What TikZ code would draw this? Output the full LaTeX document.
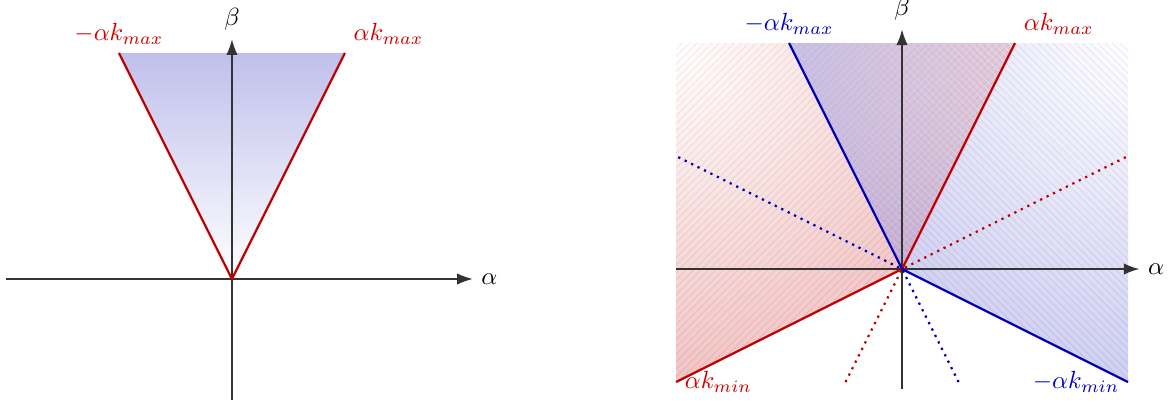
\documentclass[tikz,border=0pt]{standalone}
\usepackage{amsmath}
\usetikzlibrary{calc, positioning}
\usetikzlibrary{arrows.meta}
\usetikzlibrary{patterns}

\begin{document}
\begin{tikzpicture}[x=1.6cm,y=1.6cm]
\def\kmax{2}
\def\kmin{0.5}
\colorlet{boundred}{red!75!black}
\colorlet{boundblue}{blue!70!black}
\colorlet{labelred}{red!80!black}
\colorlet{labelblue}{blue!75!black}
\tikzset{
  axisline/.style={black!80,line width=0.5pt,-{Latex[length=2.2mm,width=1.6mm]}},
  boundline/.style={line width=0.9pt},
  guideline/.style={line width=0.9pt,dotted},
}
\useasboundingbox (-2.053,-1.115) rectangle (8.319,2.469);

% left picture: the admissible cone
\coordinate (O) at (0,0);
\coordinate (Ltop) at (-1,\kmax);
\coordinate (Rtop) at (1,\kmax);
\shade[top color=boundblue!25,bottom color=white] (O) -- (Ltop) -- (Rtop) -- cycle;

\coordinate (xa) at (-2,0);
\coordinate (xb) at (2.13,0);
\coordinate (ya) at (0,-1.07);
\coordinate (yb) at (0,2.12);
\draw[axisline] (xa) -- (xb);
\draw[axisline] (ya) -- (yb);
\node[right] (alphaL) at (xb) {$\alpha$};
\node[above] (betaL) at (yb) {$\beta$};

\draw[boundline,boundred] (Ltop) -- (O) -- (Rtop);
\node[above,labelred] (kmaxLl) at (Ltop) {$-\alpha k_{max}$};
\node[above right,labelred] (kmaxLr) at (Rtop) {$\alpha k_{max}$};

% right picture: both cones with lower bounds
\begin{scope}[shift={(5.93,0.088)}]
\coordinate (P) at (0,0);
\coordinate (TL) at (-2,2);
\coordinate (TR) at (2,2);
\coordinate (BL) at (-2,-1);
\coordinate (BR) at (2,-1);
\coordinate (redUp) at (1,2);
\coordinate (redDown) at (-2,-1);
\coordinate (blueUp) at (-1,2);
\coordinate (blueDown) at (2,-1);

\begin{scope}
  \clip (P) -- (redUp) -- (TL) -- (BL) -- cycle;
  \fill[pattern=north east lines,pattern color=boundred!12] (BL) rectangle (TR);
  \shade[inner color=white,outer color=boundred,fill opacity=0.4]
    (TL) circle[radius=5.2];
\end{scope}
\begin{scope}
  \clip (P) -- (blueUp) -- (TR) -- (BR) -- cycle;
  \fill[pattern=north west lines,pattern color=boundblue!10] (BL) rectangle (TR);
  \shade[inner color=white,outer color=boundblue,fill opacity=0.33]
    (TR) circle[radius=5.2];
\end{scope}

\coordinate (xc) at (-2,0);
\coordinate (xd) at (2.1,0);
\coordinate (yc) at (0,-1.06);
\coordinate (yd) at (0,2.12);
\draw[axisline] (xc) -- (xd);
\draw[axisline] (yc) -- (yd);
\node[right] (alphaR) at (xd) {$\alpha$};
\node[above] (betaR) at (yd) {$\beta$};

\coordinate (redDotUp) at (2,1);
\coordinate (redDotDown) at (-0.5,-1);
\coordinate (blueDotUp) at (-2,1);
\coordinate (blueDotDown) at (0.5,-1);
\draw[guideline,boundred] (redDotDown) -- (P) -- (redDotUp);
\draw[guideline,boundblue] (blueDotDown) -- (P) -- (blueDotUp);

\draw[boundline,boundred] (redDown) -- (P) -- (redUp);
\draw[boundline,boundblue] (blueDown) -- (P) -- (blueUp);

\node[above,labelblue] (kmaxRl) at (blueUp) {$-\alpha k_{max}$};
\node[above right,labelred] (kmaxRr) at (redUp) {$\alpha k_{max}$};
\node[right,labelred] (kminRl) at (redDown) {$\alpha k_{min}$};
\node[left,labelblue] (kminRr) at (blueDown) {$-\alpha k_{min}$};
\end{scope}
\end{tikzpicture}
\end{document}
